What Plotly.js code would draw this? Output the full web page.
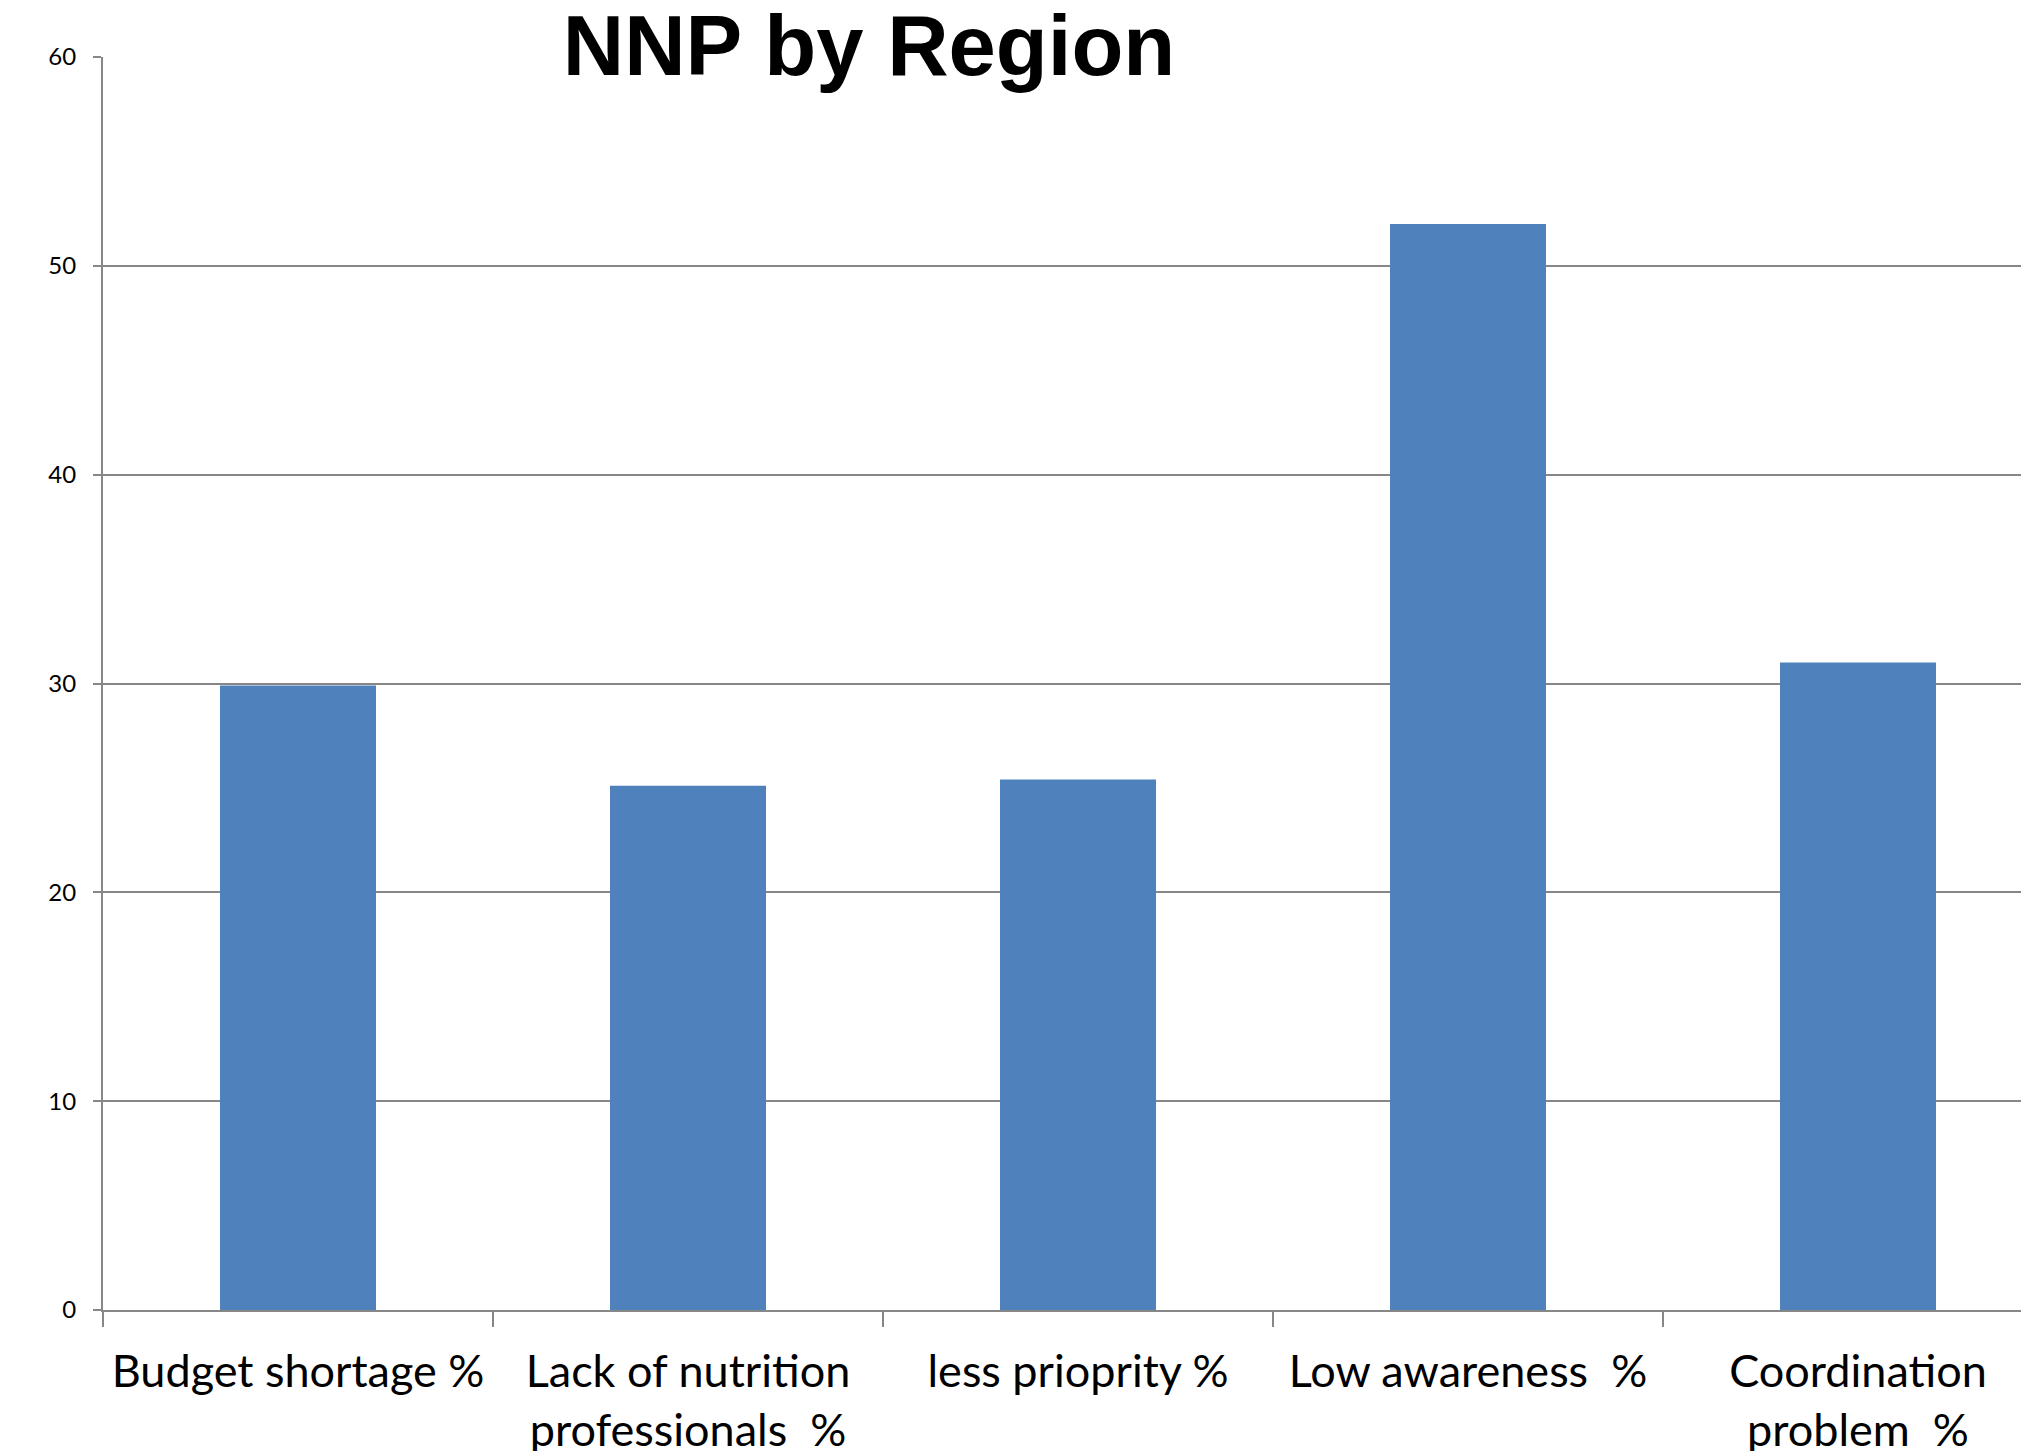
<!DOCTYPE html>
<html>
<head>
<meta charset="utf-8">
<script src="https://cdn.plot.ly/plotly-3.0.1.min.js"></script>
<style>html,body{margin:0;padding:0;background:#fff;}#chart{width:2021px;height:1451px;}</style>
</head>
<body>
<div id="chart"></div>
<script>
const categories = [
  "Budget shortage %",
  "Lack of nutrition<br>professionals  %",
  "less prioprity %",
  "Low awareness  %",
  "Coordination<br>problem  %"
];
const values = [29.9, 25.1, 25.4, 52.0, 31.0];
const yTickValues = [0, 10, 20, 30, 40, 50, 60];

const trace = {
  type: "bar",
  x: categories,
  y: values,
  marker: {color: "#4F81BD", line: {width: 0}},
  hoverinfo: "x+y"
};

const layout = {
  width: 2021,
  height: 1451,
  paper_bgcolor: "#ffffff",
  plot_bgcolor: "#ffffff",
  margin: {l: 103, r: 0, t: 57, b: 141, pad: 0},
  bargap: 0.6,
  showlegend: false,
  title: {
    text: "<b>NNP by Region</b>",
    font: {family: "Liberation Sans, Arial, sans-serif", size: 85, color: "#000000"},
    x: 0.43, xanchor: "center",
    y: 1 - 15 / 1451, yanchor: "top", xref: "container", yref: "container"
  },
  xaxis: {
    type: "category",
    range: [-0.5, -0.5 + 1918 / 390],
    showgrid: false,
    showline: true,
    linecolor: "#878787",
    linewidth: 2,
    ticks: "outside",
    tickson: "boundaries",
    ticklen: 15,
    tickwidth: 2,
    tickcolor: "#878787",
    tickfont: {family: "Lato, Carlito, sans-serif", size: 45, color: "#000000"},
    ticklabelstandoff: 21,
    zeroline: false,
    fixedrange: true
  },
  yaxis: {
    range: [0, 60],
    tickvals: yTickValues,
    ticktext: yTickValues.map(String),
    showgrid: true,
    gridcolor: "#878787",
    gridwidth: 2,
    showline: true,
    linecolor: "#878787",
    linewidth: 2,
    ticks: "outside",
    ticklen: 8,
    tickwidth: 2,
    tickcolor: "#878787",
    tickfont: {family: "Lato, Carlito, sans-serif", size: 24, color: "#000000"},
    ticklabelstandoff: 12,
    zeroline: false,
    fixedrange: true
  }
};

Plotly.newPlot("chart", [trace], layout, {displayModeBar: false, staticPlot: true});
</script>
</body>
</html>
